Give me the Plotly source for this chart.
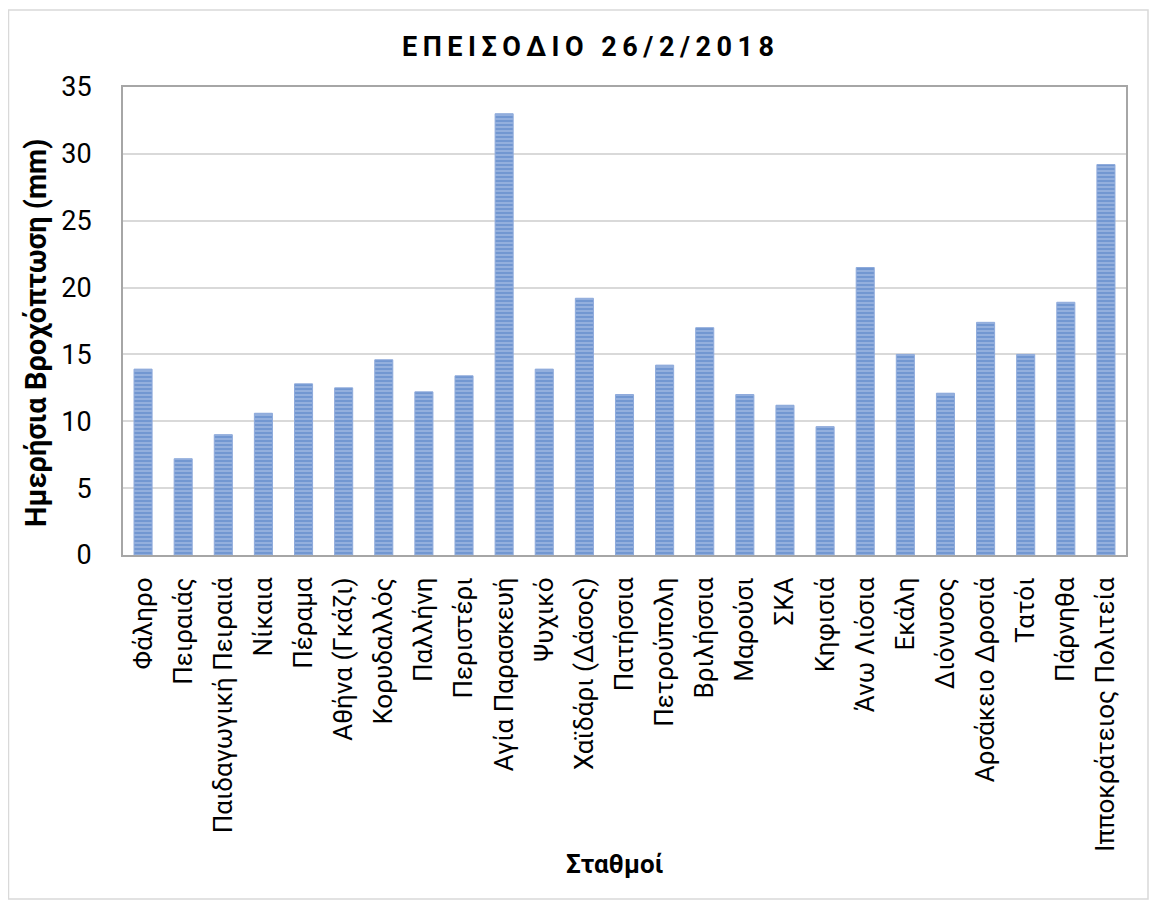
import plotly.graph_objects as go

stations = ["Φάληρο", "Πειραιάς", "Παιδαγωγική Πειραιά", "Νίκαια", "Πέραμα",
            "Αθήνα (Γκάζι)", "Κορυδαλλός", "Παλλήνη", "Περιστέρι", "Αγία Παρασκευή",
            "Ψυχικό", "Χαϊδάρι (Δάσος)", "Πατήσσια", "Πετρούπολη", "Βριλήσσια",
            "Μαρούσι", "ΣΚΑ", "Κηφισιά", "Άνω Λιόσια", "Εκάλη",
            "Διόνυσος", "Αρσάκειο Δροσιά", "Τατόι", "Πάρνηθα", "Ιπποκράτειος Πολιτεία"]
rain_mm = [13.9, 7.2, 9.0, 10.6, 12.8,
           12.5, 14.6, 12.2, 13.4, 33.0,
           13.9, 19.2, 12.0, 14.2, 17.0,
           12.0, 11.2, 9.6, 21.5, 15.0,
           12.1, 17.4, 15.0, 18.9, 29.2]
y_ticks = [0, 5, 10, 15, 20, 25, 30, 35]

title_text = "ΕΠΕΙΣΟΔΙΟ 26/2/2018"
y_title = "Ημερήσια Βροχόπτωση (mm)"
x_title = "Σταθμοί"

FONT = "Roboto"

# page body has an 8px default margin: figure origin sits at page (8, 8)
W, H = 1141, 892
PL, PR, PT, PB = 123, 1126, 87, 555  # plot area in page pixels


def px(xp):
    return (xp - PL) / (PR - PL)


def py(yp):
    return (PB - yp) / (PB - PT)


fig = go.Figure()
fig.add_trace(go.Bar(
    x=stations, y=rain_mm,
    marker=dict(
        color="#4472c4",
        line=dict(color="#8eaadb", width=1),
        pattern=dict(shape="-", fgcolor="#4a78c2", bgcolor="#9bb6e0",
                     size=4, solidity=0.6, fillmode="overlay"),
    ),
    width=0.45,
))

spaced_title = "\u2009".join(list(title_text))

fig.update_layout(
    width=W, height=H,
    margin=dict(l=PL - 8, r=W - (PR - 8), t=PT - 8, b=H - (PB - 8)),
    paper_bgcolor="white", plot_bgcolor="white",
    showlegend=False,
    font=dict(family=FONT, color="black"),
    annotations=[
        dict(text="<b>" + spaced_title + "</b>", xref="paper", yref="paper",
             x=px(588), y=py(47), xanchor="center", yanchor="middle",
             showarrow=False, font=dict(size=27, family=FONT, color="black")),
        dict(text="<b>" + y_title + "</b>", xref="paper", yref="paper",
             x=px(36), y=py(333), xanchor="center", yanchor="middle",
             textangle=-90, showarrow=False, font=dict(size=29, family=FONT, color="black")),
        dict(text="<b>" + x_title + "</b>", xref="paper", yref="paper",
             x=px(614), y=py(864), xanchor="center", yanchor="middle",
             showarrow=False, font=dict(size=26, family=FONT, color="black")),
    ],
    shapes=[
        dict(type="rect", xref="paper", yref="paper",
             x0=px(8.5), x1=px(1148), y0=py(899), y1=py(10),
             line=dict(color="#d9d9d9", width=1.5), fillcolor="rgba(0,0,0,0)", layer="below"),
    ],
)

fig.update_xaxes(
    type="category", tickangle=-90,
    tickfont=dict(size=26, family=FONT, color="black"),
    showline=True, linecolor="#a6a6a6", linewidth=2, mirror=True,
    showgrid=False, ticks="", ticklabelstandoff=10,
)
fig.update_yaxes(
    range=[0, 35], tickvals=y_ticks,
    tickfont=dict(size=27, family=FONT, color="black"),
    showline=True, linecolor="#a6a6a6", linewidth=2, mirror=True,
    showgrid=True, gridcolor="#d9d9d9", gridwidth=1.5,
    ticks="", ticklabelstandoff=24, zeroline=False,
)

fig.write_html("out.html")
